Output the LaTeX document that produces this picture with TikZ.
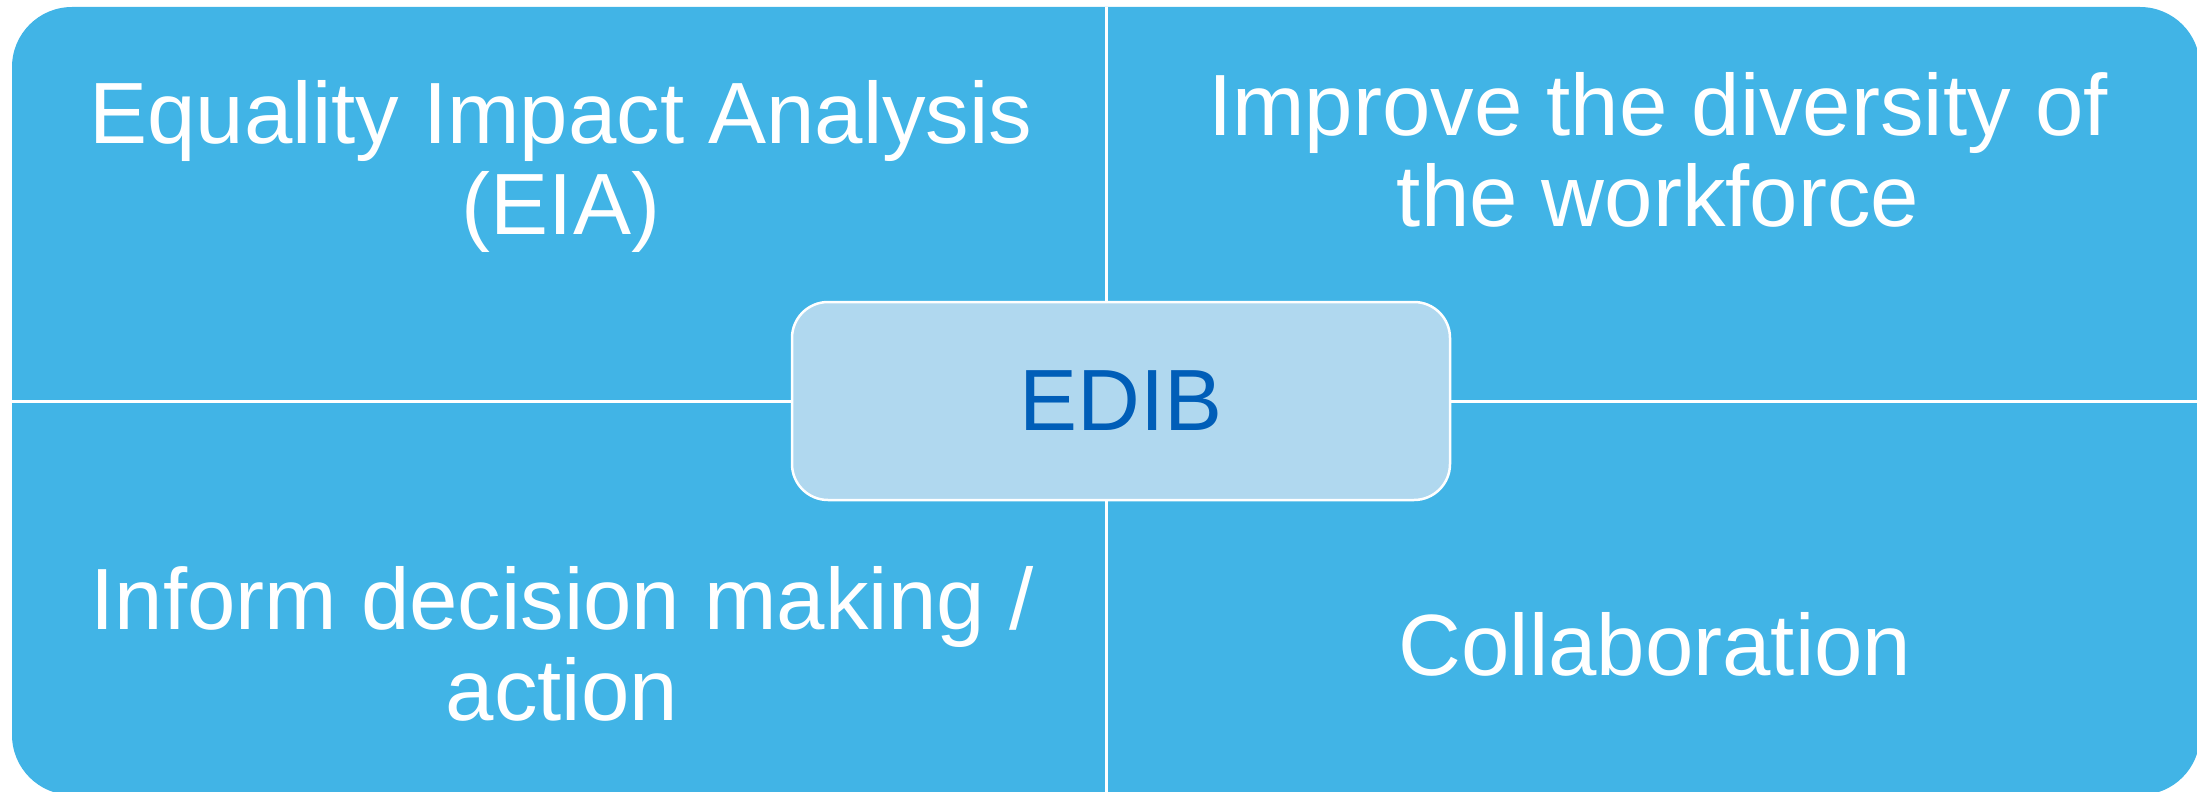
\documentclass[tikz,border=0pt]{standalone}
\usepackage{fontspec}
\setmainfont{Liberation Sans}
\definecolor{outerblue}{RGB}{65,180,230}
\definecolor{centerblue}{RGB}{176,216,239}
\definecolor{edibtext}{RGB}{0,94,184}
\begin{document}
\begin{tikzpicture}[x=1pt,y=-1pt,
  quadtext/.style={text=white, align=center, inner sep=0pt, anchor=base,
    font=\fontsize{87}{91}\selectfont},
  divider/.style={draw=white, line width=3pt},
  frame/.style={fill=outerblue, draw=none, rounded corners=60pt, inner sep=0pt,
    minimum width=2188pt, minimum height=788pt},
  hub/.style={fill=centerblue, draw=white, line width=2.5pt, rounded corners=36pt,
    inner sep=0pt, minimum width=658pt, minimum height=198pt,
    text=edibtext, font=\fontsize{87}{91}\selectfont}]
\useasboundingbox (0,0) rectangle (2197,792);
\node[frame] (outer) at (1106,401) {};
\draw[divider] (outer.north) -- (outer.south);
\draw[divider] (outer.west) -- (outer.east);
\node[quadtext] (tl) at (561,234) {Equality Impact Analysis\\(EIA)};
\node[quadtext] (tr) at (1658,226) {Improve the diversity of\\the workforce};
\node[quadtext] (bl) at (562,720) {Inform decision making /\\action};
\node[quadtext] (br) at (1655,675) {Collaboration};
\node[hub] (edib) at (1121,401) {EDIB};
\end{tikzpicture}
\end{document}
